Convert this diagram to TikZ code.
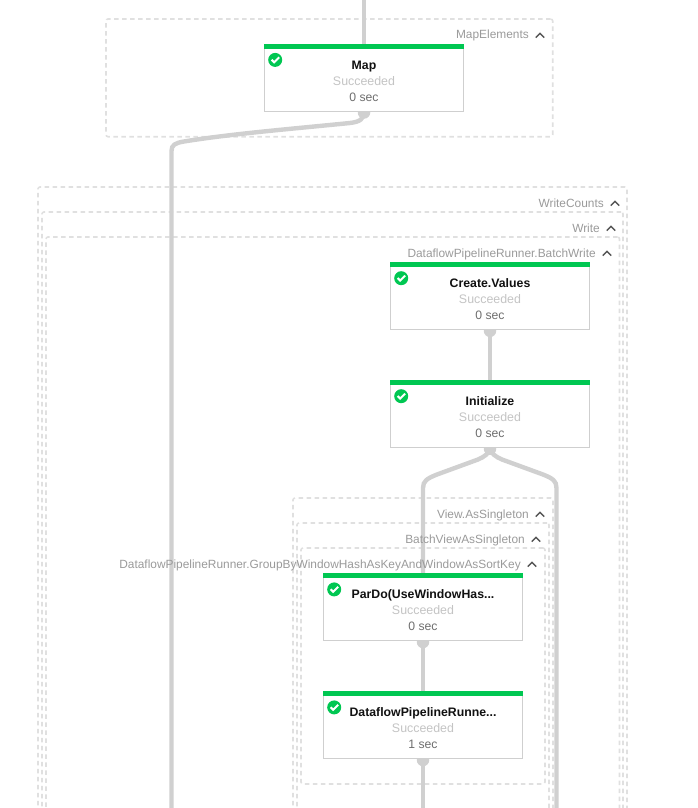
\documentclass[tikz,border=0pt]{standalone}
\usepackage{fontspec}
\setmainfont{Liberation Sans}
\pgfdeclarelayer{grp}
\pgfdeclarelayer{edges}
\pgfsetlayers{grp,edges,main}
\definecolor{edgegray}{HTML}{D0D0D0}
\definecolor{dashgray}{HTML}{E0E0E0}
\definecolor{boxline}{HTML}{CFCFCF}
\definecolor{okgreen}{HTML}{00C752}
\definecolor{labelgray}{HTML}{9A9A9A}
\definecolor{statusgray}{HTML}{C4C4C4}
\definecolor{timegray}{HTML}{6E6E6E}
\definecolor{titleblack}{HTML}{111111}
\definecolor{chevgray}{HTML}{555555}
\tikzset{
  x=1pt,y=-1pt,
  groupbox/.style={draw=dashgray,line width=1.6pt,dash pattern=on 4.5pt off 3.5pt,rounded corners=2pt,inner sep=0pt},
  edgeline/.style={draw=edgegray,line width=4.4pt},
  jobbox/.style={draw=boxline,fill=white,line width=1pt,minimum width=198.6pt,minimum height=66.6pt,inner sep=0pt},
  grouplabel/.style={anchor=east,text=labelgray,inner sep=0pt,text height=9pt,text depth=3pt,font=\fontsize{11.9}{14}\selectfont},
  titlelabel/.style={text=titleblack,inner sep=0pt,text height=9pt,text depth=3pt,font=\fontsize{12.3}{14}\selectfont\bfseries},
  statuslabel/.style={text=statusgray,inner sep=0pt,text height=9pt,text depth=3pt,font=\fontsize{12.4}{14}\selectfont},
  timelabel/.style={text=timegray,inner sep=0pt,text height=9pt,text depth=3pt,font=\fontsize{12.2}{14}\selectfont},
  chevron/.style={draw=chevgray,line width=1.3pt},
  blob/.style={fill=edgegray,draw=none,circle,minimum size=12.5pt,inner sep=0pt},
}
\newcommand{\jobstep}[6]{%
  % name, x, y, title, time, text offset below the top edge
  \node[jobbox] (#1) at (#2,#3) {};
  \fill[okgreen] (#1.north west) rectangle ([yshift=-5pt]#1.north east);
  \node[circle,fill=okgreen,minimum size=14pt,inner sep=0pt] (#1-ok) at ([xshift=11pt,yshift=-16pt]#1.north west) {};
  \draw[white,line width=2pt] ([xshift=-3.6pt,yshift=0.2pt]#1-ok.center) -- ([xshift=-1pt,yshift=-2.4pt]#1-ok.center) -- ([xshift=3.9pt,yshift=2.6pt]#1-ok.center);
  \node[titlelabel] (#1-title) at ([yshift=-#6pt]#1.north) {#4};
  \node[statuslabel] (#1-status) at ([yshift=-#6pt-16pt]#1.north) {Succeeded};
  \node[timelabel] (#1-time) at ([yshift=-#6pt-32pt]#1.north) {#5};
  \begin{pgfonlayer}{edges}
    \node[blob] (#1-blob) at ([yshift=-1pt]#1.south) {};
  \end{pgfonlayer}
}
\newcommand{\groupframe}[8]{%
  % name, left, top, right, bottom, label, label right, label y
  \begin{pgfonlayer}{grp}
    \node[groupbox,minimum width=#4pt-#2pt,minimum height=#5pt-#3pt] (#1) at ({(#2+#4)/2},{(#3+#5)/2}) {};
  \end{pgfonlayer}
  \node[grouplabel] (#1-label) at (#7,#8+1) {#6};
  \draw[chevron] (#7+6.8,#8+2.6) -- (#7+11,#8-1.6) -- (#7+15.2,#8+2.6);
}
\begin{document}
\begin{tikzpicture}
\useasboundingbox (0,0) rectangle (698,808);
\groupframe{mapelements}{106}{19}{552.7}{136.7}{MapElements}{529}{35}
\groupframe{writecounts}{38}{187}{627}{860}{WriteCounts}{604}{203}
\groupframe{writeg}{42}{212}{623}{860}{Write}{600}{228}
\groupframe{batchwrite}{46}{237}{619.5}{860}{DataflowPipelineRunner.BatchWrite}{596}{253}
\groupframe{viewsingle}{293}{498}{553}{860}{View.AsSingleton}{529}{514}
\groupframe{batchview}{297}{523}{549}{860}{BatchViewAsSingleton}{525}{539}
\groupframe{groupby}{301}{548}{545}{784}{DataflowPipelineRunner.GroupByWindowHashAsKeyAndWindowAsSortKey}{521}{564}

\jobstep{map}{364}{77.7}{Map}{0 sec}{23}
\jobstep{create}{490}{296}{Create.Values}{0 sec}{22}
\jobstep{init}{490}{414}{Initialize}{0 sec}{22}
\jobstep{pardo}{423}{607.2}{ParDo(UseWindowHas...}{0 sec}{22}
\jobstep{runner}{423}{725.2}{DataflowPipelineRunne...}{1 sec}{22}

\coordinate (topin) at (364,-5);
\coordinate (leftout) at (171.5,815);
\coordinate (rightout) at (556.5,815);
\coordinate (runnerout) at (423,815);
\begin{pgfonlayer}{edges}
  \draw[edgeline] (topin) -- (map.north);
  \draw[edgeline] (map.south) .. controls (364,119) and (360,121.8) .. (350,123)
     .. controls (290,129) and (230,134) .. (184,141.5)
     .. controls (175,143) and (171.5,145) .. (171.5,151) -- (leftout);
  \draw[edgeline] (create.south) -- (init.north);
  \draw[edgeline] (init.south) .. controls (490,453) and (484,457) .. (478,459.5)
     -- (437,474.5) .. controls (427,478.5) and (423,481) .. (423,488) -- (pardo.north);
  \draw[edgeline] (init.south) .. controls (490,453) and (496,457) .. (502,459.5)
     -- (543,474.5) .. controls (553,478.5) and (556.5,481) .. (556.5,488) -- (rightout);
  \draw[edgeline] (pardo.south) -- (runner.north);
  \draw[edgeline] (runner.south) -- (runnerout);
\end{pgfonlayer}
\end{tikzpicture}
\end{document}
